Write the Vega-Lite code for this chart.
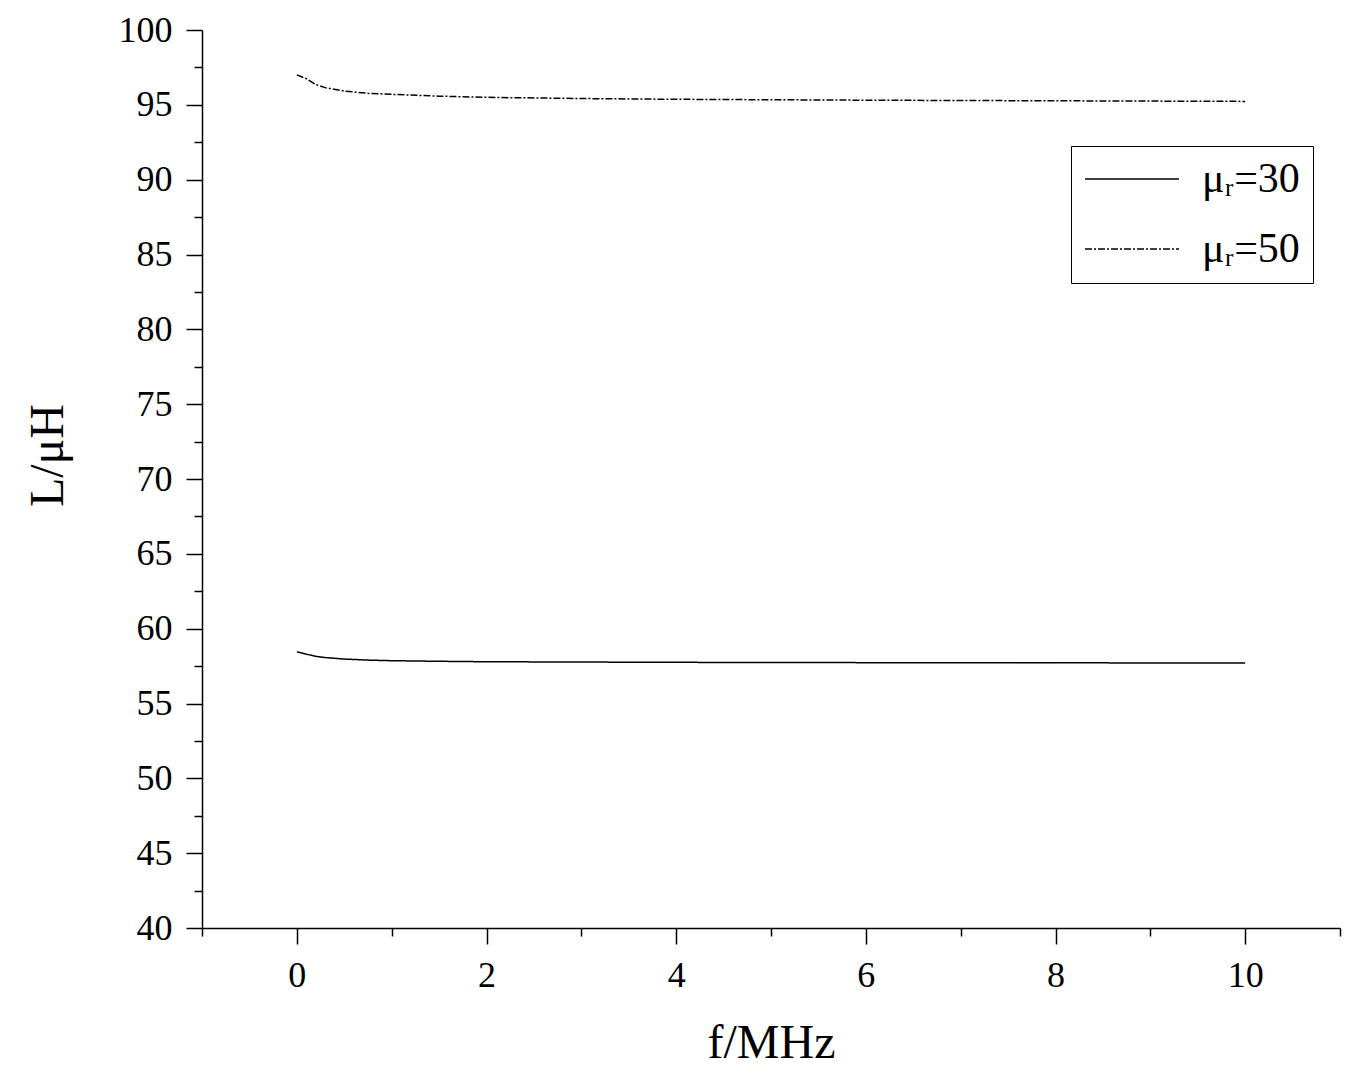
{
  "$schema": "https://vega.github.io/schema/vega-lite/v6.json",
  "autosize": {"type": "none"},
  "padding": {"left": 202, "top": 30, "right": 31, "bottom": 163},
  "width": 1138,
  "height": 898,
  "background": "white",
  "config": {
    "view": {"stroke": null},
    "font": "Liberation Serif",
    "axis": {
      "grid": false,
      "domainColor": "black",
      "domainWidth": 1.5,
      "tickColor": "black",
      "tickWidth": 1.5,
      "labelColor": "black",
      "titleColor": "black",
      "labelFont": "Liberation Serif",
      "titleFont": "Liberation Serif",
      "labelFontSize": 36,
      "titleFontSize": 48,
      "titleFontWeight": "normal",
      "labelOverlap": false
    },
    "legend": {
      "labelFont": "Liberation Serif",
      "labelFontSize": 42,
      "labelColor": "black"
    }
  },
  "data": {
    "values": [
      {"f": 0, "L": 58.45, "series": "μᵣ=30"},
      {"f": 0.1, "L": 58.3, "series": "μᵣ=30"},
      {"f": 0.2, "L": 58.15, "series": "μᵣ=30"},
      {"f": 0.3, "L": 58.07, "series": "μᵣ=30"},
      {"f": 0.5, "L": 57.97, "series": "μᵣ=30"},
      {"f": 0.75, "L": 57.9, "series": "μᵣ=30"},
      {"f": 1, "L": 57.86, "series": "μᵣ=30"},
      {"f": 1.5, "L": 57.82, "series": "μᵣ=30"},
      {"f": 2, "L": 57.79, "series": "μᵣ=30"},
      {"f": 3, "L": 57.77, "series": "μᵣ=30"},
      {"f": 4, "L": 57.75, "series": "μᵣ=30"},
      {"f": 5, "L": 57.74, "series": "μᵣ=30"},
      {"f": 6, "L": 57.73, "series": "μᵣ=30"},
      {"f": 7, "L": 57.72, "series": "μᵣ=30"},
      {"f": 8, "L": 57.72, "series": "μᵣ=30"},
      {"f": 9, "L": 57.71, "series": "μᵣ=30"},
      {"f": 10, "L": 57.7, "series": "μᵣ=30"},
      {"f": 0, "L": 97.0, "series": "μᵣ=50"},
      {"f": 0.1, "L": 96.75, "series": "μᵣ=50"},
      {"f": 0.2, "L": 96.35, "series": "μᵣ=50"},
      {"f": 0.3, "L": 96.15, "series": "μᵣ=50"},
      {"f": 0.5, "L": 95.92, "series": "μᵣ=50"},
      {"f": 0.75, "L": 95.77, "series": "μᵣ=50"},
      {"f": 1, "L": 95.7, "series": "μᵣ=50"},
      {"f": 1.5, "L": 95.58, "series": "μᵣ=50"},
      {"f": 2, "L": 95.5, "series": "μᵣ=50"},
      {"f": 3, "L": 95.42, "series": "μᵣ=50"},
      {"f": 4, "L": 95.37, "series": "μᵣ=50"},
      {"f": 5, "L": 95.34, "series": "μᵣ=50"},
      {"f": 6, "L": 95.31, "series": "μᵣ=50"},
      {"f": 7, "L": 95.29, "series": "μᵣ=50"},
      {"f": 8, "L": 95.27, "series": "μᵣ=50"},
      {"f": 9, "L": 95.25, "series": "μᵣ=50"},
      {"f": 10, "L": 95.23, "series": "μᵣ=50"}
    ]
  },
  "mark": {"type": "line", "color": "black", "strokeWidth": 1.5},
  "encoding": {
    "x": {
      "field": "f",
      "type": "quantitative",
      "scale": {"domain": [-1, 11], "nice": false, "zero": false},
      "axis": {
        "title": "f/MHz",
        "values": [-1, 0, 1, 2, 3, 4, 5, 6, 7, 8, 9, 10, 11],
        "labelExpr": "datum.value >= 0 && datum.value <= 10 && datum.value % 2 === 0 ? datum.label : ''",
        "tickSize": {"condition": {"test": "datum.value % 2 === 0", "value": 16}, "value": 8},
        "labelPadding": 14,
        "titlePadding": 26
      }
    },
    "y": {
      "field": "L",
      "type": "quantitative",
      "scale": {"domain": [40, 100], "nice": false, "zero": false},
      "axis": {
        "title": "L/μH",
        "values": [40, 42.5, 45, 47.5, 50, 52.5, 55, 57.5, 60, 62.5, 65, 67.5, 70, 72.5, 75, 77.5, 80, 82.5, 85, 87.5, 90, 92.5, 95, 97.5, 100],
        "labelExpr": "datum.value % 5 === 0 ? datum.label : ''",
        "tickSize": {"condition": {"test": "datum.value % 5 === 0", "value": 16}, "value": 8},
        "labelPadding": 14,
        "titlePadding": 46,
        "titleY": 425
      }
    },
    "strokeDash": {
      "field": "series",
      "type": "nominal",
      "scale": {"domain": ["μᵣ=30", "μᵣ=50"], "range": [[1, 0], [7, 2, 2, 2]]},
      "legend": {
        "title": null,
        "orient": "none",
        "legendX": 869,
        "legendY": 116,
        "symbolType": "stroke",
        "symbolSize": 8836,
        "symbolStrokeWidth": 1.5,
        "symbolStrokeColor": "black",
        "clipHeight": 40,
        "labelOffset": 22,
        "rowPadding": 28,
        "padding": 13,
        "strokeColor": "black",
        "fillColor": "white"
      }
    }
  }
}
